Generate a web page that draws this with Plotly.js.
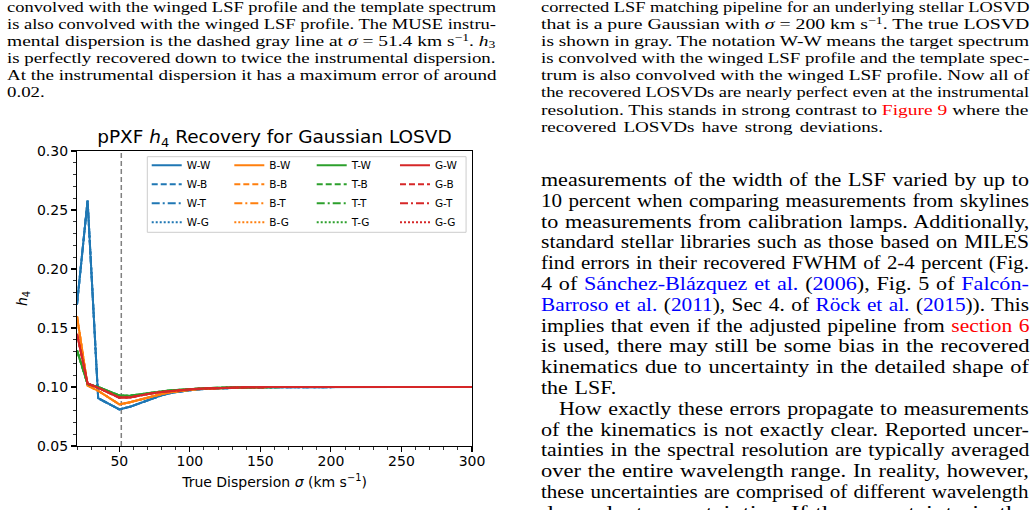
<!DOCTYPE html>
<html>
<head>
<meta charset="utf-8">
<script src="https://cdn.plot.ly/plotly-3.0.1.min.js"></script>
<style>
  html, body { margin: 0; padding: 0; background: #fff; }
  body { width: 1036px; height: 510px; overflow: hidden; position: relative; font-family: "Liberation Serif", serif; color: #000; }
  .col { position: absolute; }
  .cap { font-size: 15.5px; line-height: 17.1px; }
  .txt { font-size: 18px; line-height: 20.8px; }
  .ln { display: block; white-space: nowrap; width: max-content; transform-origin: 0 0; word-spacing: 1px; }
  .cap .ln { word-spacing: 0; }
  .cap .end { word-spacing: 2px; }
  .r { color: #ff0000; }
  .b { color: #0000ff; }
  sup { font-size: 0.7em; vertical-align: 0.45em; line-height: 0; }
  sub { font-size: 0.7em; vertical-align: -0.2em; line-height: 0; }
  #chart { position: absolute; left: 0; top: 120px; width: 500px; height: 390px; }
</style>
</head>
<body>

<div class="col cap" data-w="489" style="left:7px; top:-2px;">
  <div class="ln">convolved with the winged LSF profile and the template spectrum</div>
  <div class="ln">is also convolved with the winged LSF profile. The MUSE instru-</div>
  <div class="ln">mental dispersion is the dashed gray line at <i>σ</i> = 51.4 km s<sup>−1</sup>. <i>h</i><sub>3</sub></div>
  <div class="ln">is perfectly recovered down to twice the instrumental dispersion.</div>
  <div class="ln">At the instrumental dispersion it has a maximum error of around</div>
  <div class="ln end">0.02.</div>
</div>

<div class="col cap" data-w="488" style="left:540.5px; top:-2px;">
  <div class="ln">corrected LSF matching pipeline for an underlying stellar LOSVD</div>
  <div class="ln">that is a pure Gaussian with <i>σ</i> = 200 km s<sup>−1</sup>. The true LOSVD</div>
  <div class="ln">is shown in gray. The notation W-W means the target spectrum</div>
  <div class="ln">is convolved with the winged LSF profile and the template spec-</div>
  <div class="ln">trum is also convolved with the winged LSF profile. Now all of</div>
  <div class="ln">the recovered LOSVDs are nearly perfect even at the instrumental</div>
  <div class="ln">resolution. This stands in strong contrast to <span class="r">Figure 9</span> where the</div>
  <div class="ln end">recovered LOSVDs have strong deviations.</div>
</div>

<div class="col txt" data-w="488" style="left:540.5px; top:170px;">
  <div class="ln">measurements of the width of the LSF varied by up to</div>
  <div class="ln">10 percent when comparing measurements from skylines</div>
  <div class="ln">to measurements from calibration lamps. Additionally,</div>
  <div class="ln">standard stellar libraries such as those based on MILES</div>
  <div class="ln">find errors in their recovered FWHM of 2-4 percent (Fig.</div>
  <div class="ln">4 of <span class="b">Sánchez-Blázquez et al.</span> (<span class="b">2006</span>), Fig. 5 of <span class="b">Falcón-</span></div>
  <div class="ln"><span class="b">Barroso et al.</span> (<span class="b">2011</span>), Sec 4. of <span class="b">Röck et al.</span> (<span class="b">2015</span>)). This</div>
  <div class="ln">implies that even if the adjusted pipeline from <span class="r">section 6</span></div>
  <div class="ln">is used, there may still be some bias in the recovered</div>
  <div class="ln">kinematics due to uncertainty in the detailed shape of</div>
  <div class="ln end">the LSF.</div>
  <div class="ln ind">How exactly these errors propagate to measurements</div>
  <div class="ln">of the kinematics is not exactly clear. Reported uncer-</div>
  <div class="ln">tainties in the spectral resolution are typically averaged</div>
  <div class="ln">over the entire wavelength range. In reality, however,</div>
  <div class="ln">these uncertainties are comprised of different wavelength</div>
  <div class="ln">dependent uncertainties. If the uncertainty in the</div>
</div>

<div id="chart"></div>

<script>
// true dispersion (km/s) where h4 was recovered
var sigma = [20, 27.5, 35, 42.5, 50, 57.5, 65, 72.5, 80, 87.5, 95, 102.5, 110, 125, 140, 155, 170, 200, 250, 300];

// recovered h4, one array per target LSF (W, B, T, G)
var h4W = [0.170, 0.258, 0.0905, 0.0855, 0.0810, 0.0832, 0.0866, 0.0902, 0.0930, 0.0952, 0.0966, 0.0976, 0.0983, 0.0991, 0.0996, 0.0998, 0.0999, 0.1000, 0.1000, 0.1000];
var h4B = [0.160, 0.1012, 0.0968, 0.0910, 0.0853, 0.0870, 0.0895, 0.0920, 0.0940, 0.0958, 0.0970, 0.0979, 0.0985, 0.0993, 0.0997, 0.0999, 0.1000, 0.1000, 0.1000, 0.1000];
var h4T = [0.131, 0.1025, 0.1000, 0.0965, 0.0928, 0.0926, 0.0940, 0.0952, 0.0963, 0.0972, 0.0979, 0.0985, 0.0989, 0.0995, 0.0998, 0.0999, 0.1000, 0.1000, 0.1000, 0.1000];
var h4G = [0.145, 0.1030, 0.0993, 0.0953, 0.0910, 0.0912, 0.0930, 0.0945, 0.0958, 0.0968, 0.0976, 0.0982, 0.0987, 0.0994, 0.0997, 0.0999, 0.1000, 0.1000, 0.1000, 0.1000];

var targets = ['W', 'B', 'T', 'G'];
var templates = ['W', 'B', 'T', 'G'];
var targetColors = ['#1f77b4', '#ff7f0e', '#2ca02c', '#d62728'];
var templateDash = ['solid', '6px,3px', '8px,3px,2px,3px', '2px,2px'];
var instrSigma = 51.4;

// stretch each full line sideways so it spans its column (the page is set in a wider face);
// last lines of a paragraph get the column's mean stretch
function justifyColumns() {
    var cols = document.querySelectorAll('.col');
    for (var c = 0; c < cols.length; c++) {
        var colW = parseFloat(cols[c].getAttribute('data-w'));
        var lines = cols[c].querySelectorAll('.ln');
        var sum = 0, n = 0;
        for (var j = 0; j < lines.length; j++) {
            var ln = lines[j];
            if (ln.classList.contains('end')) continue;
            var indent = ln.classList.contains('ind') ? 18 : 0;
            var k = (colW - indent) / ln.offsetWidth;
            if (indent) ln.style.paddingLeft = (indent / k) + 'px';
            ln.style.transform = 'scaleX(' + k + ')';
            sum += k;
            n++;
        }
        var kMean = n ? sum / n : 1;
        for (var e = 0; e < lines.length; e++) {
            if (lines[e].classList.contains('end')) {
                lines[e].style.transform = 'scaleX(' + kMean + ')';
            }
        }
    }
}
justifyColumns();

var h4ByTarget = [h4W, h4B, h4T, h4G];
var legendNames = ['legend', 'legend2', 'legend3', 'legend4'];
var legendX = [0.1765, 0.3856, 0.5942, 0.805];

var data = [];
for (var t = 0; t < targets.length; t++) {
    for (var s = 0; s < templates.length; s++) {
        data.push({
            x: sigma,
            y: h4ByTarget[t],
            type: 'scatter',
            mode: 'lines',
            name: targets[t] + '-' + templates[s],
            legend: legendNames[t],
            line: { color: targetColors[t], width: 2, dash: templateDash[s] }
        });
    }
}

var layout = {
    width: 500,
    height: 390,
    margin: { l: 77, r: 28, t: 31, b: 64 },
    paper_bgcolor: '#fff',
    plot_bgcolor: '#fff',
    font: { family: 'DejaVu Sans', color: '#000', size: 14 },
    title: {
        text: 'pPXF <i>h</i><sub>4</sub> Recovery for Gaussian LOSVD',
        font: { size: 18.5, color: '#000' },
        x: 0.5, xref: 'paper', xanchor: 'center',
        y: 1 - 17 / 390, yref: 'container', yanchor: 'middle'
    },
    xaxis: {
        range: [20, 300], tickmode: 'linear', tick0: 0, dtick: 50,
        ticks: 'outside', ticklen: 5, tickwidth: 1.1, tickcolor: '#000',
        ticklabelstandoff: -3,
        showline: true, linecolor: '#000', linewidth: 1.1, mirror: true,
        showgrid: false, zeroline: false,
        minor: { tick0: 0, dtick: 10, ticks: 'outside', ticklen: 3, tickwidth: 0.8, tickcolor: '#000', showgrid: false },
        tickfont: { size: 14 },
        title: { text: 'True Dispersion <i>σ</i> (km s<sup>−1</sup>)', font: { size: 14 }, standoff: 9 }
    },
    yaxis: {
        range: [0.05, 0.30], tickmode: 'linear', tick0: 0, dtick: 0.05, tickformat: '.2f',
        ticks: 'outside', ticklen: 5, tickwidth: 1.1, tickcolor: '#000',
        showline: true, linecolor: '#000', linewidth: 1.1, mirror: true,
        showgrid: false, zeroline: false,
        minor: { tick0: 0, dtick: 0.01, ticks: 'outside', ticklen: 3, tickwidth: 0.8, tickcolor: '#000', showgrid: false },
        tickfont: { size: 14 },
        title: { text: '<i>h</i><sub>4</sub>', font: { size: 14 }, standoff: 6 }
    },
    shapes: [
        {
            type: 'line', xref: 'x', yref: 'paper',
            x0: instrSigma, x1: instrSigma, y0: 0, y1: 1,
            line: { color: '#808080', width: 1.5, dash: '5px,3px' },
            layer: 'below'
        },
        {
            type: 'rect', xref: 'paper', yref: 'paper',
            x0: 0.178, x1: 0.985, y0: 0.7244, y1: 0.9807,
            line: { color: '#cccccc', width: 1 },
            fillcolor: 'rgba(255,255,255,0.8)',
            layer: 'above'
        }
    ]
};

for (var i = 0; i < legendNames.length; i++) {
    layout[legendNames[i]] = {
        x: legendX[i], xanchor: 'left', xref: 'paper',
        y: 1.001, yanchor: 'top', yref: 'paper',
        orientation: 'v',
        bgcolor: 'rgba(0,0,0,0)', borderwidth: 0,
        font: { size: 10.5, color: '#000' },
        tracegroupgap: 0
    };
}

Plotly.newPlot('chart', data, layout, { displayModeBar: false, staticPlot: true });
</script>
</body>
</html>
